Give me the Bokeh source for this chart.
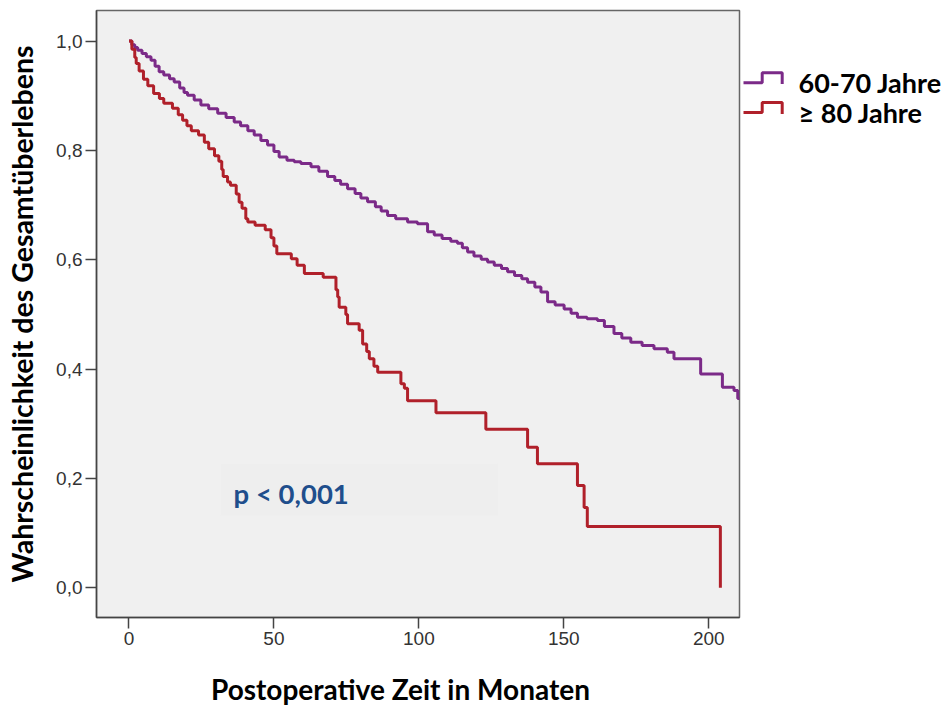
from bokeh.plotting import figure
from bokeh.layouts import row
from bokeh.models import Range1d, FixedTicker, CustomJSTickFormatter, Label, BoxAnnotation, Grid
from bokeh.embed import file_html
from bokeh.resources import INLINE
from bokeh.core.properties import value

# ---------------- data ----------------
red_t = [0, 1.0, 2.0, 2.5, 3.5, 5.0, 6.5, 8.5, 10.5, 12, 15, 17, 18.5, 20, 21.5, 24, 26, 27.5,
         29.5, 31, 32, 32.5, 34, 35, 37, 38, 39, 40.3, 41, 43.5, 47, 49, 50, 51, 56, 58, 60.5,
         67, 71.4, 72, 72.5, 74.8, 75.4, 79.4, 80.6, 82, 82.9, 84.5, 85.8, 93.8, 95, 96.1,
         105.9, 123.1, 137.5, 140.9, 154.7, 157, 158.1, 204]
red_s = [1.0, 0.985, 0.97, 0.959, 0.945, 0.93, 0.918, 0.904, 0.895, 0.886, 0.877, 0.865, 0.855,
         0.845, 0.836, 0.828, 0.815, 0.803, 0.79, 0.78, 0.765, 0.752, 0.742, 0.736, 0.72, 0.705,
         0.694, 0.675, 0.669, 0.663, 0.655, 0.64, 0.625, 0.611, 0.602, 0.59, 0.575, 0.568, 0.545,
         0.532, 0.513, 0.5, 0.483, 0.471, 0.446, 0.432, 0.419, 0.405, 0.394, 0.373, 0.365, 0.342,
         0.320, 0.290, 0.257, 0.227, 0.187, 0.147, 0.112, 0.0]

pur_t = [0, 1, 2, 3, 4.5, 6, 7.6, 9, 10.4, 12, 14, 15.6, 17.5, 19, 20.2, 22.5, 24.8, 27.5, 30.6,
         33.5, 36.3, 38.5, 41, 43.2, 45.5, 47.8, 50, 51.8, 54.5, 57, 59.3, 62.8, 65.5, 68.5, 71,
         73, 75.4, 78, 80, 82.3, 85, 87, 89.2, 92, 96.1, 99.5, 103, 105.3, 108, 111, 113.3, 115,
         116.8, 119, 121.5, 123.7, 126, 128.5, 130.6, 133, 135.5, 137.5, 140, 142.1, 144.4, 147,
         150.1, 152.5, 154.7, 158, 161.6, 164, 167.3, 170, 173.1, 177, 181.1, 185.7, 188, 197.2,
         204.7, 208.7, 210, 212]
pur_s = [1.0, 0.993, 0.988, 0.983, 0.977, 0.971, 0.965, 0.954, 0.944, 0.938, 0.931, 0.925, 0.914,
         0.906, 0.901, 0.892, 0.883, 0.876, 0.868, 0.860, 0.852, 0.845, 0.836, 0.828, 0.818, 0.810,
         0.798, 0.788, 0.782, 0.779, 0.776, 0.770, 0.762, 0.752, 0.745, 0.738, 0.730, 0.721, 0.713,
         0.706, 0.697, 0.689, 0.681, 0.675, 0.669, 0.666, 0.651, 0.645, 0.639, 0.634, 0.630, 0.622,
         0.614, 0.607, 0.601, 0.596, 0.590, 0.584, 0.578, 0.571, 0.565, 0.559, 0.550, 0.541, 0.523,
         0.517, 0.510, 0.502, 0.495, 0.492, 0.489, 0.478, 0.465, 0.457, 0.449, 0.443, 0.437, 0.431,
         0.419, 0.391, 0.367, 0.361, 0.346, 0.340]

x_ticks = [0, 50, 100, 150, 200]
y_ticks = [0.0, 0.2, 0.4, 0.6, 0.8, 1.0]
series_names = ["60-70 Jahre", "\u2265 80 Jahre"]
x_label = "Postoperative Zeit in Monaten"
y_label = "Wahrscheinlichkeit des Gesamtüberlebens"
p_text = "p < 0,001"

# ---------------- styles ----------------
PURPLE = "#7b2a88"
RED = "#b0202a"
BOLD_FONT = "Lato"
LABEL_SIZE = "28px"
YLABEL_SIZE = "28.5px"
P_SIZE = "27.5px"
LEG_SIZE = "27px"
TICK_FONT = "Liberation Sans"
TICK_SIZE = "19px"
XLABEL_SHIFT = "\u2003\u2002"   # trailing em+en space: moves the centred x title slightly left

p = figure(width=741, height=711,
           x_range=Range1d(-11.2, 210.6), y_range=Range1d(-0.0543, 1.0558),
           output_backend="svg", toolbar_location=None,
           min_border_left=96, min_border_top=10, min_border_right=2, min_border_bottom=94)
p.background_fill_color = "#f0f0f0"
p.border_fill_color = "white"
p.outline_line_color = "#666666"
p.outline_line_width = 1.5
p.grid.visible = False

p.add_layout(BoxAnnotation(left=31.6, right=127.2, bottom=0.132, top=0.227,
                           fill_color="#ececec", fill_alpha=0.6, line_color=None, level="underlay"))

p.step(pur_t, pur_s, mode="after", line_color=PURPLE, line_width=3)
p.step(red_t, red_s, mode="after", line_color=RED, line_width=3)

p.add_layout(Label(x=36.1, y=0.172, text=p_text, text_baseline="middle",
                   text_color="#1f4e8c", text_font=BOLD_FONT, text_font_style="bold",
                   text_font_size=P_SIZE))

for ax in (p.xaxis[0], p.yaxis[0]):
    ax.axis_line_color = "#444444"
    ax.axis_line_width = 1.5
    ax.major_tick_line_color = "#444444"
    ax.major_tick_line_width = 1.5
    ax.major_tick_in = 0
    ax.major_tick_out = 11
    ax.minor_tick_line_color = None
    ax.major_label_text_font = TICK_FONT
    ax.major_label_text_font_size = TICK_SIZE
    ax.major_label_text_color = "#333333"
    ax.major_label_standoff = 3
    ax.axis_label_text_font = BOLD_FONT
    ax.axis_label_text_font_style = "bold"
    ax.axis_label_text_color = "black"

p.xaxis.ticker = FixedTicker(ticks=x_ticks)
p.yaxis.ticker = FixedTicker(ticks=y_ticks)
p.yaxis.formatter = CustomJSTickFormatter(code="return tick.toFixed(1).replace('.', ',');")

p.yaxis.axis_label = y_label
p.yaxis.axis_label_text_font_size = YLABEL_SIZE
p.yaxis.axis_label_standoff = 14

p.xaxis.axis_label = x_label + XLABEL_SHIFT
p.xaxis.axis_label_text_font_size = LABEL_SIZE
p.xaxis.axis_label_standoff = 24

# ---------------- legend panel ----------------
leg = figure(width=206, height=711, x_range=Range1d(0, 206), y_range=Range1d(711, 0),
             output_backend="svg", toolbar_location=None,
             x_axis_location=None, y_axis_location=None,
             min_border_left=0, min_border_right=0, min_border_top=0, min_border_bottom=0)
leg.outline_line_color = None
leg.background_fill_color = "white"
leg.border_fill_color = "white"
for g in leg.select(type=Grid):
    g.visible = False

icon_dx = [0, 18.7, 18.7, 38.7, 38.7]
icon_dy = [0, 0, -11.6, -11.6, 1.7]
row_y = [84.5, 119.5]
for yy, col in zip(row_y, [PURPLE, RED]):
    leg.line([2 + d for d in icon_dx], [yy + d for d in icon_dy], line_color=col, line_width=3)
leg.text(x=[57, 57], y=row_y, text=series_names, text_baseline="middle",
         text_font=value(BOLD_FONT), text_font_style="bold", text_font_size=LEG_SIZE,
         text_color="black")

layout = row(p, leg)
open("out.html", "w").write(file_html(layout, INLINE))
